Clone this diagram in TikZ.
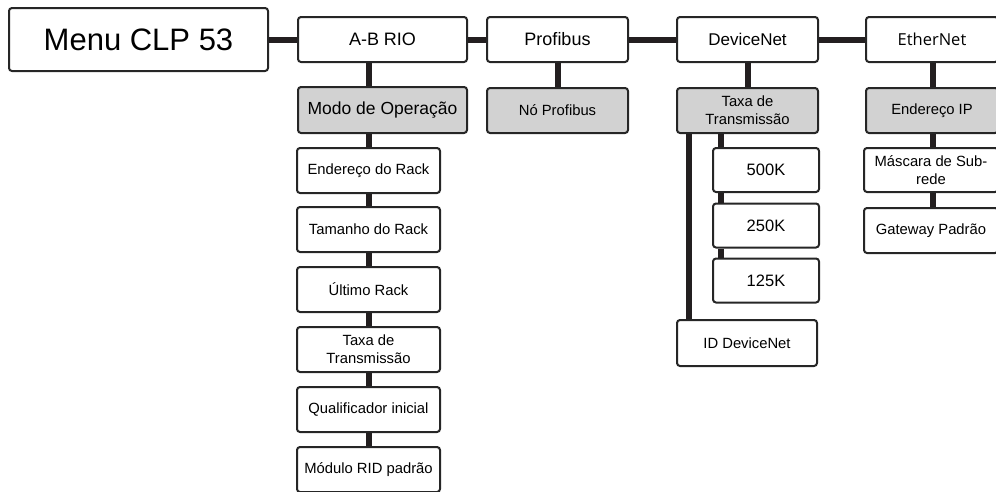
\documentclass[tikz,border=0pt]{standalone}
\usepackage{fontspec}
\setmainfont{Liberation Sans}
\newfontfamily\ethfont{Open Sans}
\usetikzlibrary{calc,positioning}
\definecolor{boxline}{HTML}{262626}
\definecolor{linkcol}{HTML}{231F20}
\definecolor{selgray}{HTML}{D2D2D2}
\tikzset{
  menubox/.style={draw=boxline, line width=2pt, rounded corners=3pt, fill=white, inner sep=0pt, align=center,
    font=\fontsize{14.8}{18}\selectfont, minimum height=45pt},
  selbox/.style={menubox, fill=selgray},
  link/.style={draw=linkcol, line width=6pt}
}

\begin{document}
\begin{tikzpicture}[x=1pt,y=-1pt]
        \useasboundingbox (0,0) rectangle (996,491);
        \node[menubox, minimum width=259pt, minimum height=63pt, font=\fontsize{31}{36}\selectfont] (menu) at (138.5,39.5) {Menu CLP 53};
        \node[menubox, minimum width=169pt, font=\fontsize{18}{21}\selectfont] (abrio) at (382.5,39.5) {A-B RIO};
        \node[menubox, minimum width=141pt, font=\fontsize{18}{21}\selectfont] (profibus) at (557.5,39.5) {Profibus};
        \node[menubox, minimum width=141pt, font=\fontsize{17}{20}\selectfont] (devnet) at (747.5,39.5) {DeviceNet};
        \node[menubox, minimum width=132pt, font=\ethfont\fontsize{16.5}{20}\selectfont] (ethernet) at (932,39.5) {EtherNet};

        \node[selbox, minimum width=169pt, minimum height=46pt, font=\fontsize{17.5}{20}\selectfont] (modo) at (382.5,110) {Modo de Operação};
        \node[selbox, minimum width=141pt] (noprof) at (557.5,110.5) {Nó Profibus};
        \node[selbox, minimum width=141pt] (taxadn) at (747.5,110.5) {Taxa de\\Transmissão};
        \node[selbox, minimum width=132pt] (endip) at (932,110.5) {Endereço IP};

        \node[menubox, minimum width=143pt] (endrack) at (368.5,170.5) {Endereço do Rack};
        \node[menubox, minimum width=143pt] (tamrack) at (368.5,229.5) {Tamanho do Rack};
        \node[menubox, minimum width=143pt] (ultrack) at (368.5,289.5) {Último Rack};
        \node[menubox, minimum width=143pt] (taxarack) at (368.5,349.5) {Taxa de\\Transmissão};
        \node[menubox, minimum width=143pt] (qualif) at (368.5,409.5) {Qualificador inicial};
        \node[menubox, minimum width=143pt] (modrid) at (368.5,469.5) {Módulo RID padrão};

        \node[menubox, minimum width=106pt, minimum height=44pt, font=\fontsize{16.5}{19}\selectfont] (k500) at (766,170) {500K};
        \node[menubox, minimum width=106pt, minimum height=44pt, font=\fontsize{16.5}{19}\selectfont] (k250) at (766,225.5) {250K};
        \node[menubox, minimum width=106pt, minimum height=44pt, font=\fontsize{16.5}{19}\selectfont] (k125) at (766,280.5) {125K};
        \node[menubox, minimum width=140pt, minimum height=46pt] (iddn) at (747,343) {ID DeviceNet};

        \node[menubox, minimum width=134pt, minimum height=44pt] (mascara) at (931,170) {Máscara de Sub-\\rede};
        \node[menubox, minimum width=134pt] (gateway) at (931,230.5) {Gateway Padrão};

        \draw[link] (menu.east) -- (abrio.west)  (abrio.east) -- (profibus.west)  (profibus.east) -- (devnet.west)  (devnet.east) -- (ethernet.west);
        \draw[link] (abrio.south -| endrack) -- (modo.north -| endrack);
        \draw[link] (modo.south -| endrack) -- (endrack.north);
        \foreach \a/\b in {endrack/tamrack, tamrack/ultrack, ultrack/taxarack, taxarack/qualif, qualif/modrid}
          \draw[link] (\a.south) -- (\b.north);
        \draw[link] (profibus.south) -- (noprof.north);
        \draw[link] (devnet.south) -- (taxadn.north);
        \draw[link] ($(taxadn.south west)+(13,0)$) -- ($(iddn.north west)+(13,0)$);
        \draw[link] ($(taxadn.south west)+(45,0)$) -- ($(k500.north west)+(9,0)$);
        \draw[link] ($(k500.south west)+(9,0)$) -- ($(k250.north west)+(9,0)$);
        \draw[link] ($(k250.south west)+(9,0)$) -- ($(k125.north west)+(9,0)$);
        \draw[link] ([xshift=1pt]ethernet.south) -- ([xshift=1pt]endip.north);
        \draw[link] ([xshift=1pt]endip.south) -- ([xshift=2pt]mascara.north);
        \draw[link] ([xshift=2pt]mascara.south) -- ([xshift=2pt]gateway.north);
\end{tikzpicture}
\end{document}
